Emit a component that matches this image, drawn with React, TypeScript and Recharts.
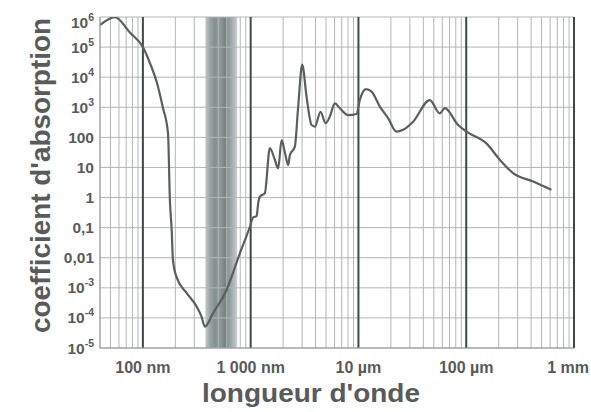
import React from "react";
import {
  LineChart,
  Line,
  XAxis,
  YAxis,
  ReferenceLine,
  ReferenceArea,
} from "recharts";

// wavelength in nm
const wavelengthNm = [
  40, 55, 76, 100, 116, 135, 153, 171, 178, 185, 190, 205, 254, 315, 350, 376,
  446, 597, 794, 984, 1055, 1135, 1175, 1217, 1354, 1507, 1676, 1800, 1935,
  2076, 2228, 2311, 2570, 2760, 3007, 3303, 3676, 3946, 4450, 4955, 5430, 6040,
  6720, 8020, 9590, 10300, 11720, 13240, 15800, 18880, 22560, 26000, 32150,
  45930, 56900, 63300, 84100, 100700, 154000, 205000, 272000, 418000, 618000,
];

// absorption coefficient
const absorption = [
  5.4e5, 9.8e5, 3.0e5, 1.0e5, 3.0e4, 6.5e3, 1.0e3, 140, 0.85, 0.083, 0.0085,
  0.0023, 6.8e-4, 2.4e-4, 1.1e-4, 5.1e-5, 1.4e-4, 8.5e-4, 1.4e-2, 0.107, 0.22,
  0.24, 0.65, 1.07, 1.4, 44, 18, 9.3, 81, 32, 12, 26, 49, 1050, 2.6e4, 2200,
  257, 229, 708, 295, 490, 1350, 930, 550, 600, 1740, 4000, 3300, 1050, 430,
  155, 178, 330, 1740, 630, 930, 257, 155, 63, 18, 6.5, 3.4, 1.8,
];

const yTicks = [1e-5, 1e-4, 1e-3, 0.01, 0.1, 1, 10, 100, 1e3, 1e4, 1e5, 1e6];
const yTickLabels = [
  "10^-5", "10^-4", "10^-3", "0,01", "0,1", "1", "10", "100",
  "10^3", "10^4", "10^5", "10^6",
];

const xTicks = [100, 1000, 10000, 100000, 1000000];
const xTickLabels = ["100 nm", "1 000 nm", "10 µm", "100 µm", "1 mm"];

const minorX: number[] = [];
[10, 100, 1000, 10000, 100000].forEach((d) => {
  for (let k = 2; k <= 9; k++) {
    const v = k * d;
    if (v >= 40 && v < 1e6) minorX.push(v);
  }
});

const data = wavelengthNm.map((wl, i) => ({ wl, alpha: absorption[i] }));

const FONT = "'Liberation Sans', Arial, Helvetica, sans-serif";
const TEXT = "#575b5b";

const YTick = (props: any) => {
  const { x, y, payload } = props;
  const idx = yTicks.indexOf(payload.value);
  const label = yTickLabels[idx] ?? "";
  const parts = label.split("^");
  const yy = idx === yTicks.length - 1 ? y + 5 : y;
  return (
    <text
      x={x}
      y={yy + 5.5}
      textAnchor="end"
      fontFamily={FONT}
      fontWeight="bold"
      fontSize={15.5}
      fill={TEXT}
    >
      <tspan>{parts[0]}</tspan>
      {parts.length > 1 && (
        <tspan dy={-7} fontSize={10.5}>
          {parts[1]}
        </tspan>
      )}
    </text>
  );
};

const XTick = (props: any) => {
  const { x, payload } = props;
  const idx = xTicks.indexOf(payload.value);
  const last = idx === xTicks.length - 1;
  return (
    <text
      x={last ? 589 : x}
      y={373}
      textAnchor={last ? "end" : "middle"}
      fontFamily={FONT}
      fontWeight="bold"
      fontSize={16}
      fill={TEXT}
    >
      {xTickLabels[idx]}
    </text>
  );
};

export default function App() {
  return (
    <div style={{ position: "fixed", left: 0, top: 0, background: "#fff" }}>
      <LineChart
        width={591}
        height={412}
        data={data}
        margin={{ top: 17, right: 17, left: 0, bottom: 0 }}
      >
        <defs>
          <linearGradient id="visBand" x1="0" y1="0" x2="1" y2="0">
            <stop offset="0" stopColor="#c3c9c9" />
            <stop offset="0.12" stopColor="#9aa4a4" />
            <stop offset="0.3" stopColor="#7d8989" />
            <stop offset="0.45" stopColor="#8a9696" />
            <stop offset="0.62" stopColor="#6f7b7b" />
            <stop offset="0.8" stopColor="#97a1a1" />
            <stop offset="1" stopColor="#c9cece" />
          </linearGradient>
        </defs>
        <XAxis
          dataKey="wl"
          type="number"
          scale="log"
          domain={[40, 1e6]}
          allowDataOverflow
          ticks={xTicks}
          tick={<XTick />}
          tickLine={false}
          axisLine={{ stroke: "#9a9a9a" }}
          height={64}
          interval={0}
          label={{
            content: () => (
              <text
                x={311}
                y={402}
                textAnchor="middle"
                fontFamily={FONT}
                fontWeight="bold"
                fontSize={26}
                textLength={218}
                lengthAdjust="spacingAndGlyphs"
                fill={TEXT}
              >
                longueur d'onde
              </text>
            ),
          }}
        />
        <YAxis
          type="number"
          scale="log"
          domain={[1e-5, 1e6]}
          allowDataOverflow
          ticks={yTicks}
          tick={<YTick />}
          tickLine={false}
          tickMargin={0}
          axisLine={{ stroke: "#9a9a9a" }}
          width={100}
          interval={0}
          label={{
            content: () => (
              <text
                x={50}
                y={175.5}
                transform="rotate(-90 50 175.5)"
                textAnchor="middle"
                fontFamily={FONT}
                fontWeight="bold"
                fontSize={27}
                textLength={315}
                lengthAdjust="spacingAndGlyphs"
                fill={TEXT}
              >
                coefficient d'absorption
              </text>
            ),
          }}
        />
        <ReferenceArea
          x1={380}
          x2={750}
          fill="url(#visBand)"
          fillOpacity={0.95}
          stroke="none"
        />
        {minorX.map((v) => (
          <ReferenceLine key={"mx" + v} x={v} stroke="#b3b6b6" strokeWidth={1} />
        ))}
        {yTicks.map((v) => (
          <ReferenceLine key={"hy" + v} y={v} stroke="#b3b6b6" strokeWidth={1} />
        ))}
        {xTicks.map((v) => (
          <ReferenceLine key={"MX" + v} x={v} stroke="#3f4848" strokeWidth={2} />
        ))}
        <Line
          type="monotone"
          dataKey="alpha"
          stroke="#595e5e"
          strokeWidth={2.2}
          dot={false}
          isAnimationActive={false}
        />
      </LineChart>
    </div>
  );
}
